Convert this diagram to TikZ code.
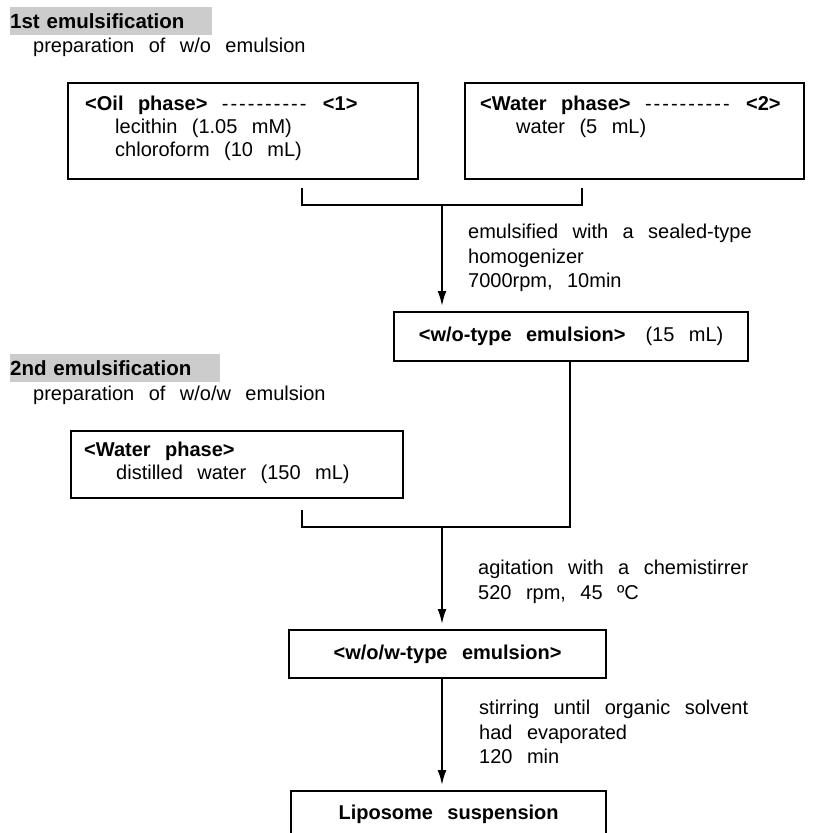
\documentclass[tikz,border=0pt]{standalone}
\usepackage{fontspec}
\setmainfont{Liberation Sans}[WordSpace=2.6]
\usetikzlibrary{arrows.meta,calc}
\definecolor{headerGray}{RGB}{204,204,204}
\newcommand{\dashrun}{\foreach \k in {1,...,10}{-\kern2pt}}

\begin{document}
\begin{tikzpicture}[
        x=1pt, y=-1pt,
        stepbox/.style={
                draw,
                line width=2.2pt,
                inner sep=0pt,
                anchor=north west,
                font=\fontsize{20}{24}\selectfont
            },
        boxtext/.style={
                anchor=north west,
                align=left,
                inner sep=0pt,
                font=\fontsize{20}{23}\selectfont
            },
        header/.style={
                fill=headerGray,
                anchor=north west,
                inner sep=0pt,
                minimum height=28pt,
                text width=#1,
                align=left,
                font=\fontsize{20.5}{24}\selectfont\bfseries
            },
        caption/.style={anchor=west, inner sep=0pt, font=\fontsize{20}{24}\selectfont},
        note/.style={anchor=north west, align=left, inner sep=0pt, font=\fontsize{20}{24.5}\selectfont},
        link/.style={line width=2pt},
        flow/.style={link, -{Latex[length=15pt, width=9pt]}, shorten >=5pt}
    ]

    \useasboundingbox (0,0) rectangle (812,833);

    % ---- 1st emulsification ----
    \node[header=202pt] (head1) at (10,7) {1st emulsification};
    \node[caption] (prep1) at (33,47) {preparation of w/o emulsion};

    \node[stepbox, minimum width=350, minimum height=96] (oil) at (67,82) {};
    \node[boxtext] (oiltext) at ($(oil.north west)+(18,14)$)
    {\textbf{<Oil phase>} \dashrun{} \textbf{<1>}\\
        \hspace*{30pt}lecithin (1.05 mM)\\
        \hspace*{30pt}chloroform (10 mL)};

    \node[stepbox, minimum width=339, minimum height=96] (wat) at (464,82) {};
    \node[boxtext] (wattext) at ($(wat.north west)+(16,14)$)
    {\textbf{<Water phase>} \dashrun{} \textbf{<2>}\\
        \hspace*{36pt}water (5 mL)};

    % bracket joining oil and water phase
    \coordinate (b1l) at (302,188);
    \coordinate (b1r) at (582,188);
    \coordinate (b1m) at (442,205);
    \draw[link] (b1l) |- (b1m) -| (b1r);

    \node[stepbox, minimum width=354, minimum height=49] (wo) at (393,311)
    {\textbf{<w/o-type emulsion>}\hspace{20pt}(15 mL)};
    \draw[flow] (b1m) -- (b1m |- wo.north);
    \node[note] (note1) at (468,224)
    {emulsified with a sealed-type\\homogenizer\\7000rpm, 10min};

    % ---- 2nd emulsification ----
    \node[header=210pt] (head2) at (10,354) {2nd emulsification};
    \node[caption] (prep2) at (33,395) {preparation of w/o/w emulsion};

    \node[stepbox, minimum width=332, minimum height=67] (dist) at (70,430) {};
    \node[boxtext] (disttext) at ($(dist.north west)+(14,12)$)
    {\textbf{<Water phase>}\\
        \hspace*{32pt}distilled water (150 mL)};

    % bracket joining emulsion and distilled water
    \coordinate (b2l) at (302,510);
    \coordinate (b2r) at (570,360);
    \coordinate (b2m) at (442,527);
    \draw[link] (b2l) |- (b2m) -| (b2r);

    \node[stepbox, minimum width=317, minimum height=48] (wow) at (288,629)
    {\textbf{<w/o/w-type emulsion>}};
    \draw[flow] (b2m) -- (b2m |- wow.north);
    \node[note] (note2) at (478,560)
    {agitation with a chemistirrer\\520 rpm, 45 ºC};

    % ---- liposome ----
    \node[stepbox, minimum width=315, minimum height=46] (lip) at (290,790)
    {\textbf{Liposome suspension}};
    \draw[flow] (wow.south -| b2m) -- (lip.north -| b2m);
    \node[note] (note3) at (479,700)
    {stirring until organic solvent\\had evaporated\\120 min};
\end{tikzpicture}
\end{document}
